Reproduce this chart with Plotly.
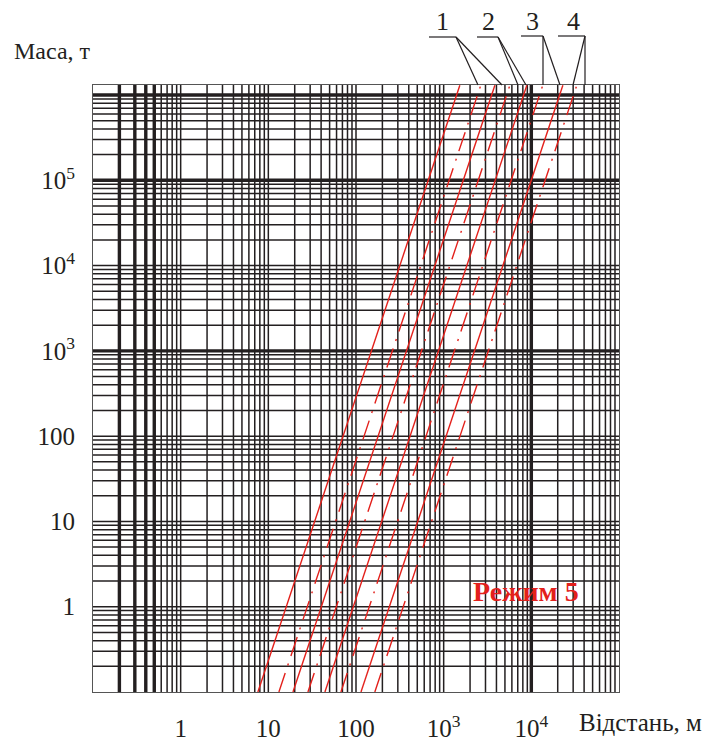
import plotly.graph_objects as go

# Маса (т) на нижній і верхній межах поля графіка
mass_ends = [0.1, 1.3e6]

# Криві: номер, тип лінії, відстань (м) при масі mass_ends[0] та mass_ends[1]
curve_ids = ["1", "1", "2", "2", "3", "3", "4", "4"]
curve_dash = ["solid", "dashdot", "solid", "dashdot", "solid", "dashdot", "solid", "dashdot"]
dist_low = [7.6, 13.2, 19.1, 28.3, 44.2, 67.3, 114, 164]
dist_high = [1530, 2650, 3840, 5690, 8890, 13500, 22900, 33000]

# Підписи осей
x_tick_vals = [1, 10, 100, 1000, 10000]
x_tick_text = ["1", "10", "100", "10<sup>3</sup>", "10<sup>4</sup>"]
y_tick_vals = [1, 10, 100, 1000, 10000, 100000]
y_tick_text = ["1", "10", "100", "10<sup>3</sup>", "10<sup>4</sup>", "10<sup>5</sup>"]

X_RANGE = (-1, 5)
Y_RANGE = (-1, 6.117)
X_BOLD = [0.2, 0.3, 0.4, 0.5, 1e4]
Y_BOLD = [1e3, 1e5, 1e6]

W, H = 706, 742
ML, MR, MT, MB = 93, 87, 85, 50
INK = "#231f20"
RED = "#e3201b"
FONT = "Liberation Serif"


def px(x, y):
    """Піксельна позиція сторінки -> координати paper."""
    return (x - ML) / (W - ML - MR), (H - MB - y) / (H - MT - MB)


def grid_values(lo, hi):
    vals = []
    for k in range(lo, hi):
        for m in range(1, 10):
            v = m * 10 ** k
            if v > 10 ** lo:
                vals.append(v)
    return vals


fig = go.Figure()

# Логарифмічна сітка (тонкі та жирні лінії)
xg = grid_values(-1, 5)
yg = grid_values(-1, 6) + [1e6]
y_lo, y_hi = 10 ** Y_RANGE[0], 10 ** Y_RANGE[1]
x_lo, x_hi = 10 ** X_RANGE[0], 10 ** X_RANGE[1]

for bold in (False, True):
    gx, gy = [], []
    for v in xg:
        if any(abs(v - b) / b < 1e-9 for b in X_BOLD) == bold:
            gx += [v, v, None]
            gy += [y_lo, y_hi, None]
    for v in yg:
        if any(abs(v - b) / b < 1e-9 for b in Y_BOLD) == bold:
            gx += [x_lo, x_hi, None]
            gy += [v, v, None]
    fig.add_trace(go.Scatter(
        x=gx, y=gy, mode="lines", hoverinfo="skip", showlegend=False,
        line=dict(color=INK, width=3.4 if bold else 1.5),
    ))

# Криві зон ураження
for cid, dash, d0, d1 in zip(curve_ids, curve_dash, dist_low, dist_high):
    fig.add_trace(go.Scatter(
        x=[d0, d1], y=mass_ends, mode="lines", name=cid, showlegend=False,
        line=dict(color=RED, width=1.4,
                  dash="solid" if dash == "solid" else "20px,8px,2px,8px"),
    ))

annotations = []


def label(text, x, y, size=25, color=INK, bold=False):
    ax, ay = px(x, y)
    annotations.append(dict(
        text=f"<b>{text}</b>" if bold else text, x=ax, y=ay,
        xref="paper", yref="paper", showarrow=False,
        xanchor="center", yanchor="middle",
        font=dict(family=FONT, size=size, color=color),
    ))


label("Маса, т", 52, 51, size=24)
label("Відстань, м", 640, 722, size=25)
label("Режим 5", 526, 591, size=28, color=RED, bold=True)
for text, x in zip(curve_ids[::2], [442, 488, 532, 573]):
    label(text, x, 21, size=26)

# Виносні лінії до номерів кривих
leaders = [
    [(429, 37), (456, 37)], [(456, 37), (478, 85)], [(456, 37), (502, 85)],
    [(477, 37), (498, 37)], [(498, 37), (518, 85)], [(498, 37), (526, 85)],
    [(521, 36), (543, 36)], [(543, 36), (543, 85)], [(543, 36), (560, 85)],
    [(558, 36), (585, 36)], [(585, 36), (585, 85)], [(585, 36), (573, 85)],
]
shapes = []
for (x0, y0), (x1, y1) in leaders:
    a0, b0 = px(x0, y0)
    a1, b1 = px(x1, y1)
    shapes.append(dict(type="line", xref="paper", yref="paper",
                       x0=a0, y0=b0, x1=a1, y1=b1,
                       line=dict(color=INK, width=1.2)))

axis_common = dict(
    type="log", showgrid=False, zeroline=False, showline=True, mirror=True,
    linecolor="#555555", linewidth=1, ticks="", automargin=False,
    tickfont=dict(family=FONT, size=25, color=INK), fixedrange=True,
)

fig.update_layout(
    width=W, height=H, margin=dict(l=ML, r=MR, t=MT, b=MB),
    paper_bgcolor="white", plot_bgcolor="white",
    xaxis=dict(range=list(X_RANGE), tickvals=x_tick_vals, ticktext=x_tick_text,
               ticklabelstandoff=14, **axis_common),
    yaxis=dict(range=list(Y_RANGE), tickvals=y_tick_vals, ticktext=y_tick_text,
               ticklabelstandoff=12, **axis_common),
    annotations=annotations, shapes=shapes,
)

fig.write_html("out.html")
